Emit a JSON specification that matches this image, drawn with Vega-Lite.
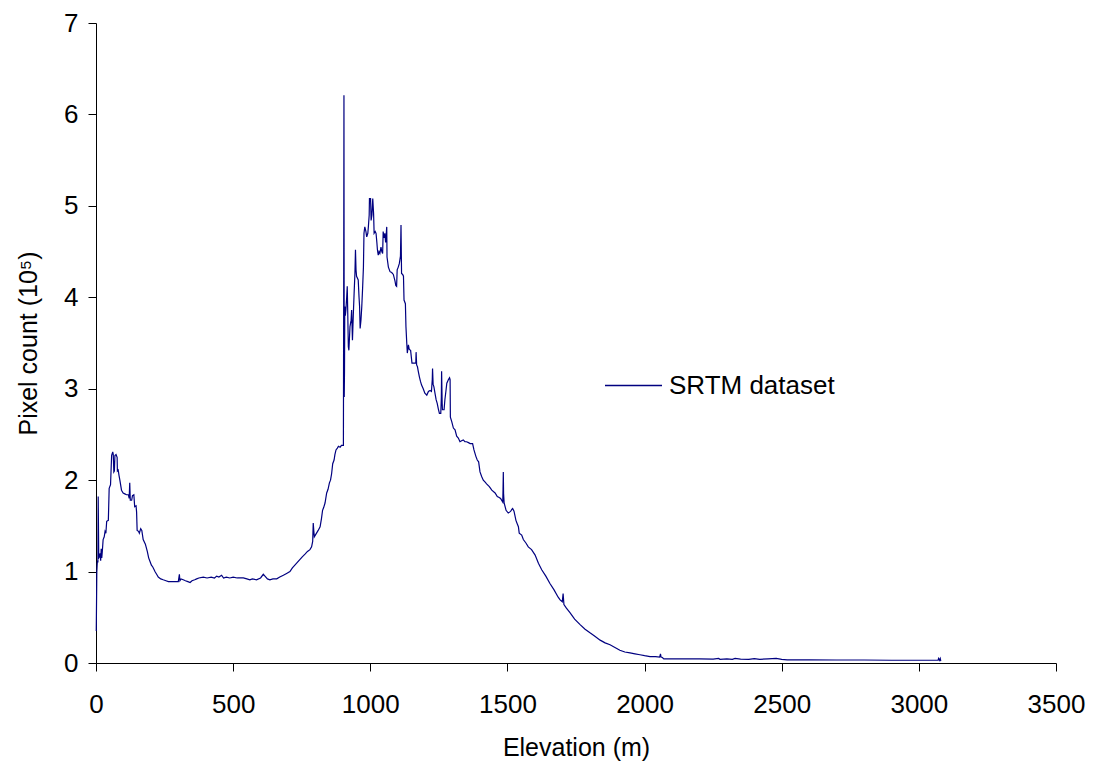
{
  "$schema": "https://vega.github.io/schema/vega-lite/v6.json",
  "autosize": "none",
  "width": 960,
  "height": 640,
  "padding": {"left": 96, "top": 23, "right": 37, "bottom": 108},
  "background": "white",
  "config": {
    "view": {"stroke": null},
    "font": "Liberation Sans",
    "axis": {
      "grid": false,
      "domainColor": "black",
      "domainWidth": 1,
      "tickColor": "black",
      "tickWidth": 1,
      "tickSize": 8,
      "labelColor": "black",
      "labelFont": "Liberation Sans",
      "labelFontSize": 26,
      "titleFont": "Liberation Sans",
      "titleFontSize": 25,
      "titleFontWeight": "normal",
      "titleColor": "black",
      "labelFlush": false
    },
    "legend": {
      "labelFont": "Liberation Sans",
      "labelFontSize": 26,
      "labelColor": "black",
      "labelLimit": 400
    }
  },
  "data": {
    "values": [
      {"elevation":1,"pixels":0.35},{"elevation":3,"pixels":1.0},{"elevation":5,"pixels":1.12},{"elevation":7,"pixels":1.1},{"elevation":8,"pixels":1.82},{"elevation":10,"pixels":1.15},{"elevation":12,"pixels":1.16},{"elevation":15,"pixels":1.2},{"elevation":17,"pixels":1.12},{"elevation":19,"pixels":1.25},{"elevation":21,"pixels":1.15},{"elevation":23,"pixels":1.22},{"elevation":26,"pixels":1.35},{"elevation":30,"pixels":1.38},{"elevation":33,"pixels":1.44},{"elevation":36,"pixels":1.42},{"elevation":39,"pixels":1.55},{"elevation":45,"pixels":1.56},{"elevation":48,"pixels":1.91},{"elevation":53,"pixels":1.95},{"elevation":57,"pixels":2.27},{"elevation":61,"pixels":2.31},{"elevation":63,"pixels":2.28},{"elevation":65,"pixels":2.09},{"elevation":67,"pixels":2.1},{"elevation":69,"pixels":2.27},{"elevation":73,"pixels":2.28},{"elevation":77,"pixels":2.25},{"elevation":78,"pixels":2.1},{"elevation":81,"pixels":2.11},{"elevation":84,"pixels":2.05},{"elevation":87,"pixels":2.0},{"elevation":93,"pixels":1.89},{"elevation":99,"pixels":1.86},{"elevation":105,"pixels":1.85},{"elevation":111,"pixels":1.84},{"elevation":118,"pixels":1.84},{"elevation":121,"pixels":1.8},{"elevation":123,"pixels":1.97},{"elevation":125,"pixels":1.78},{"elevation":130,"pixels":1.78},{"elevation":133,"pixels":1.83},{"elevation":138,"pixels":1.84},{"elevation":141,"pixels":1.71},{"elevation":146,"pixels":1.72},{"elevation":148,"pixels":1.65},{"elevation":150,"pixels":1.45},{"elevation":155,"pixels":1.44},{"elevation":158,"pixels":1.42},{"elevation":163,"pixels":1.47},{"elevation":167,"pixels":1.45},{"elevation":172,"pixels":1.35},{"elevation":180,"pixels":1.3},{"elevation":187,"pixels":1.22},{"elevation":192,"pixels":1.15},{"elevation":197,"pixels":1.11},{"elevation":202,"pixels":1.07},{"elevation":207,"pixels":1.05},{"elevation":212,"pixels":1.02},{"elevation":215,"pixels":1.0},{"elevation":221,"pixels":0.97},{"elevation":227,"pixels":0.94},{"elevation":236,"pixels":0.92},{"elevation":245,"pixels":0.91},{"elevation":255,"pixels":0.9},{"elevation":264,"pixels":0.89},{"elevation":280,"pixels":0.89},{"elevation":294,"pixels":0.89},{"elevation":300,"pixels":0.89},{"elevation":304,"pixels":0.97},{"elevation":306,"pixels":0.9},{"elevation":310,"pixels":0.92},{"elevation":318,"pixels":0.91},{"elevation":326,"pixels":0.9},{"elevation":335,"pixels":0.89},{"elevation":343,"pixels":0.88},{"elevation":350,"pixels":0.9},{"elevation":360,"pixels":0.91},{"elevation":367,"pixels":0.92},{"elevation":375,"pixels":0.93},{"elevation":391,"pixels":0.94},{"elevation":405,"pixels":0.93},{"elevation":420,"pixels":0.94},{"elevation":432,"pixels":0.93},{"elevation":440,"pixels":0.95},{"elevation":448,"pixels":0.94},{"elevation":458,"pixels":0.96},{"elevation":465,"pixels":0.93},{"elevation":475,"pixels":0.94},{"elevation":488,"pixels":0.93},{"elevation":500,"pixels":0.94},{"elevation":515,"pixels":0.93},{"elevation":537,"pixels":0.93},{"elevation":550,"pixels":0.92},{"elevation":561,"pixels":0.91},{"elevation":570,"pixels":0.92},{"elevation":585,"pixels":0.91},{"elevation":600,"pixels":0.93},{"elevation":610,"pixels":0.97},{"elevation":616,"pixels":0.95},{"elevation":625,"pixels":0.92},{"elevation":634,"pixels":0.91},{"elevation":645,"pixels":0.92},{"elevation":659,"pixels":0.92},{"elevation":670,"pixels":0.94},{"elevation":683,"pixels":0.96},{"elevation":695,"pixels":0.98},{"elevation":707,"pixels":1.0},{"elevation":716,"pixels":1.04},{"elevation":725,"pixels":1.07},{"elevation":734,"pixels":1.1},{"elevation":743,"pixels":1.13},{"elevation":752,"pixels":1.16},{"elevation":762,"pixels":1.19},{"elevation":771,"pixels":1.22},{"elevation":780,"pixels":1.24},{"elevation":786,"pixels":1.27},{"elevation":790,"pixels":1.33},{"elevation":792,"pixels":1.53},{"elevation":794,"pixels":1.45},{"elevation":796,"pixels":1.38},{"elevation":804,"pixels":1.42},{"elevation":810,"pixels":1.45},{"elevation":817,"pixels":1.49},{"elevation":822,"pixels":1.58},{"elevation":826,"pixels":1.67},{"elevation":830,"pixels":1.7},{"elevation":835,"pixels":1.75},{"elevation":841,"pixels":1.86},{"elevation":846,"pixels":1.9},{"elevation":851,"pixels":1.97},{"elevation":855,"pixels":2.0},{"elevation":859,"pixels":2.07},{"elevation":863,"pixels":2.18},{"elevation":868,"pixels":2.22},{"elevation":871,"pixels":2.28},{"elevation":875,"pixels":2.33},{"elevation":880,"pixels":2.35},{"elevation":884,"pixels":2.37},{"elevation":890,"pixels":2.36},{"elevation":895,"pixels":2.38},{"elevation":902,"pixels":2.38},{"elevation":903,"pixels":4.0},{"elevation":904,"pixels":6.21},{"elevation":905,"pixels":2.91},{"elevation":906,"pixels":3.2},{"elevation":907,"pixels":3.9},{"elevation":909,"pixels":3.8},{"elevation":911,"pixels":3.86},{"elevation":914,"pixels":4.0},{"elevation":916,"pixels":4.12},{"elevation":918,"pixels":3.8},{"elevation":920,"pixels":3.46},{"elevation":922,"pixels":3.42},{"elevation":926,"pixels":3.68},{"elevation":930,"pixels":3.75},{"elevation":932,"pixels":3.86},{"elevation":935,"pixels":3.53},{"elevation":938,"pixels":3.8},{"elevation":941,"pixels":4.04},{"elevation":944,"pixels":4.26},{"elevation":946,"pixels":4.52},{"elevation":948,"pixels":4.3},{"elevation":950,"pixels":4.23},{"elevation":956,"pixels":4.19},{"elevation":959,"pixels":4.0},{"elevation":961,"pixels":3.9},{"elevation":963,"pixels":3.66},{"elevation":966,"pixels":3.75},{"elevation":969,"pixels":3.9},{"elevation":972,"pixels":4.1},{"elevation":975,"pixels":4.33},{"elevation":977,"pixels":4.7},{"elevation":980,"pixels":4.77},{"elevation":984,"pixels":4.72},{"elevation":987,"pixels":4.66},{"elevation":991,"pixels":4.7},{"elevation":993,"pixels":4.77},{"elevation":996,"pixels":4.9},{"elevation":997,"pixels":5.08},{"elevation":1001,"pixels":5.08},{"elevation":1003,"pixels":4.84},{"elevation":1006,"pixels":4.9},{"elevation":1009,"pixels":5.08},{"elevation":1012,"pixels":4.92},{"elevation":1014,"pixels":4.7},{"elevation":1018,"pixels":4.72},{"elevation":1021,"pixels":4.7},{"elevation":1024,"pixels":4.6},{"elevation":1026,"pixels":4.52},{"elevation":1029,"pixels":4.46},{"elevation":1032,"pixels":4.5},{"elevation":1035,"pixels":4.48},{"elevation":1039,"pixels":4.55},{"elevation":1042,"pixels":4.5},{"elevation":1045,"pixels":4.48},{"elevation":1047,"pixels":4.72},{"elevation":1050,"pixels":4.65},{"elevation":1053,"pixels":4.7},{"elevation":1056,"pixels":4.6},{"elevation":1060,"pixels":4.77},{"elevation":1061,"pixels":4.44},{"elevation":1066,"pixels":4.33},{"elevation":1072,"pixels":4.28},{"elevation":1078,"pixels":4.27},{"elevation":1084,"pixels":4.25},{"elevation":1090,"pixels":4.18},{"elevation":1093,"pixels":4.13},{"elevation":1096,"pixels":4.12},{"elevation":1098,"pixels":4.3},{"elevation":1102,"pixels":4.33},{"elevation":1106,"pixels":4.37},{"elevation":1110,"pixels":4.45},{"elevation":1112,"pixels":4.79},{"elevation":1114,"pixels":4.26},{"elevation":1118,"pixels":4.25},{"elevation":1121,"pixels":4.23},{"elevation":1123,"pixels":3.97},{"elevation":1128,"pixels":3.93},{"elevation":1130,"pixels":3.68},{"elevation":1133,"pixels":3.5},{"elevation":1135,"pixels":3.39},{"elevation":1139,"pixels":3.48},{"elevation":1142,"pixels":3.43},{"elevation":1147,"pixels":3.42},{"elevation":1152,"pixels":3.28},{"elevation":1160,"pixels":3.28},{"elevation":1166,"pixels":3.28},{"elevation":1167,"pixels":3.4},{"elevation":1169,"pixels":3.26},{"elevation":1172,"pixels":3.24},{"elevation":1175,"pixels":3.19},{"elevation":1179,"pixels":3.13},{"elevation":1183,"pixels":3.08},{"elevation":1187,"pixels":3.04},{"elevation":1193,"pixels":3.0},{"elevation":1199,"pixels":2.95},{"elevation":1206,"pixels":2.93},{"elevation":1212,"pixels":2.97},{"elevation":1218,"pixels":2.98},{"elevation":1223,"pixels":2.97},{"elevation":1226,"pixels":3.1},{"elevation":1227,"pixels":3.22},{"elevation":1229,"pixels":3.05},{"elevation":1232,"pixels":3.02},{"elevation":1236,"pixels":2.95},{"elevation":1240,"pixels":2.88},{"elevation":1244,"pixels":2.84},{"elevation":1248,"pixels":2.78},{"elevation":1252,"pixels":2.73},{"elevation":1257,"pixels":2.73},{"elevation":1259,"pixels":2.9},{"elevation":1260,"pixels":3.19},{"elevation":1262,"pixels":2.85},{"elevation":1263,"pixels":2.77},{"elevation":1269,"pixels":2.77},{"elevation":1272,"pixels":2.88},{"elevation":1276,"pixels":2.98},{"elevation":1279,"pixels":3.06},{"elevation":1285,"pixels":3.1},{"elevation":1289,"pixels":3.12},{"elevation":1291,"pixels":3.1},{"elevation":1292,"pixels":2.69},{"elevation":1297,"pixels":2.64},{"elevation":1303,"pixels":2.57},{"elevation":1309,"pixels":2.55},{"elevation":1315,"pixels":2.48},{"elevation":1321,"pixels":2.46},{"elevation":1327,"pixels":2.42},{"elevation":1333,"pixels":2.43},{"elevation":1339,"pixels":2.44},{"elevation":1345,"pixels":2.42},{"elevation":1351,"pixels":2.42},{"elevation":1358,"pixels":2.41},{"elevation":1364,"pixels":2.4},{"elevation":1373,"pixels":2.4},{"elevation":1378,"pixels":2.33},{"elevation":1385,"pixels":2.26},{"elevation":1390,"pixels":2.22},{"elevation":1395,"pixels":2.2},{"elevation":1400,"pixels":2.09},{"elevation":1406,"pixels":2.04},{"elevation":1412,"pixels":2.0},{"elevation":1418,"pixels":1.98},{"elevation":1424,"pixels":1.96},{"elevation":1434,"pixels":1.93},{"elevation":1443,"pixels":1.89},{"elevation":1455,"pixels":1.86},{"elevation":1463,"pixels":1.82},{"elevation":1470,"pixels":1.81},{"elevation":1475,"pixels":1.8},{"elevation":1483,"pixels":1.76},{"elevation":1484,"pixels":1.9},{"elevation":1485,"pixels":2.09},{"elevation":1486,"pixels":1.85},{"elevation":1488,"pixels":1.75},{"elevation":1495,"pixels":1.67},{"elevation":1503,"pixels":1.64},{"elevation":1508,"pixels":1.65},{"elevation":1512,"pixels":1.66},{"elevation":1516,"pixels":1.68},{"elevation":1519,"pixels":1.69},{"elevation":1524,"pixels":1.66},{"elevation":1531,"pixels":1.56},{"elevation":1536,"pixels":1.52},{"elevation":1540,"pixels":1.49},{"elevation":1543,"pixels":1.42},{"elevation":1552,"pixels":1.4},{"elevation":1558,"pixels":1.35},{"elevation":1568,"pixels":1.31},{"elevation":1576,"pixels":1.27},{"elevation":1588,"pixels":1.24},{"elevation":1601,"pixels":1.18},{"elevation":1613,"pixels":1.09},{"elevation":1625,"pixels":1.02},{"elevation":1640,"pixels":0.95},{"elevation":1655,"pixels":0.87},{"elevation":1670,"pixels":0.8},{"elevation":1685,"pixels":0.72},{"elevation":1692,"pixels":0.69},{"elevation":1700,"pixels":0.67},{"elevation":1703,"pixels":0.76},{"elevation":1706,"pixels":0.64},{"elevation":1715,"pixels":0.6},{"elevation":1728,"pixels":0.55},{"elevation":1745,"pixels":0.48},{"elevation":1765,"pixels":0.42},{"elevation":1783,"pixels":0.37},{"elevation":1801,"pixels":0.33},{"elevation":1820,"pixels":0.29},{"elevation":1838,"pixels":0.25},{"elevation":1856,"pixels":0.22},{"elevation":1874,"pixels":0.2},{"elevation":1892,"pixels":0.17},{"elevation":1910,"pixels":0.14},{"elevation":1928,"pixels":0.12},{"elevation":1947,"pixels":0.11},{"elevation":1965,"pixels":0.1},{"elevation":1983,"pixels":0.09},{"elevation":2000,"pixels":0.08},{"elevation":2020,"pixels":0.07},{"elevation":2040,"pixels":0.07},{"elevation":2055,"pixels":0.065},{"elevation":2058,"pixels":0.1},{"elevation":2060,"pixels":0.065},{"elevation":2065,"pixels":0.06},{"elevation":2070,"pixels":0.045},{"elevation":2100,"pixels":0.045},{"elevation":2150,"pixels":0.045},{"elevation":2200,"pixels":0.045},{"elevation":2250,"pixels":0.043},{"elevation":2270,"pixels":0.05},{"elevation":2275,"pixels":0.04},{"elevation":2300,"pixels":0.045},{"elevation":2320,"pixels":0.04},{"elevation":2330,"pixels":0.05},{"elevation":2350,"pixels":0.043},{"elevation":2380,"pixels":0.04},{"elevation":2400,"pixels":0.048},{"elevation":2420,"pixels":0.04},{"elevation":2450,"pixels":0.045},{"elevation":2480,"pixels":0.05},{"elevation":2500,"pixels":0.04},{"elevation":2520,"pixels":0.035},{"elevation":2600,"pixels":0.035},{"elevation":2700,"pixels":0.033},{"elevation":2800,"pixels":0.033},{"elevation":2900,"pixels":0.03},{"elevation":3000,"pixels":0.03},{"elevation":3070,"pixels":0.03},{"elevation":3072,"pixels":0.05},{"elevation":3075,"pixels":0.03},{"elevation":3078,"pixels":0.05},{"elevation":3080,"pixels":0.02}
    ]
  },
  "mark": {"type": "line", "strokeWidth": 1.2, "interpolate": "linear"},
  "encoding": {
    "x": {
      "field": "elevation",
      "type": "quantitative",
      "scale": {"domain": [0, 3500], "nice": false, "zero": true},
      "axis": {
        "values": [0, 500, 1000, 1500, 2000, 2500, 3000, 3500],
        "format": "d",
        "title": "Elevation (m)",
        "labelPadding": 20,
        "titleY": 84,
        "titleBaseline": "middle"
      }
    },
    "y": {
      "field": "pixels",
      "type": "quantitative",
      "scale": {"domain": [0, 7], "nice": false},
      "axis": {
        "values": [0, 1, 2, 3, 4, 5, 6, 7],
        "format": "d",
        "title": "Pixel count (10⁵)",
        "labelPadding": 10,
        "titleX": -68,
        "titleBaseline": "middle"
      }
    },
    "color": {
      "datum": "SRTM dataset",
      "type": "nominal",
      "scale": {"range": ["#000080"]},
      "legend": {
        "title": null,
        "orient": "none",
        "legendX": 508,
        "legendY": 333,
        "symbolType": "stroke",
        "symbolSize": 3249,
        "symbolStrokeWidth": 1.5,
        "labelOffset": 6,
        "padding": 0
      }
    }
  }
}
